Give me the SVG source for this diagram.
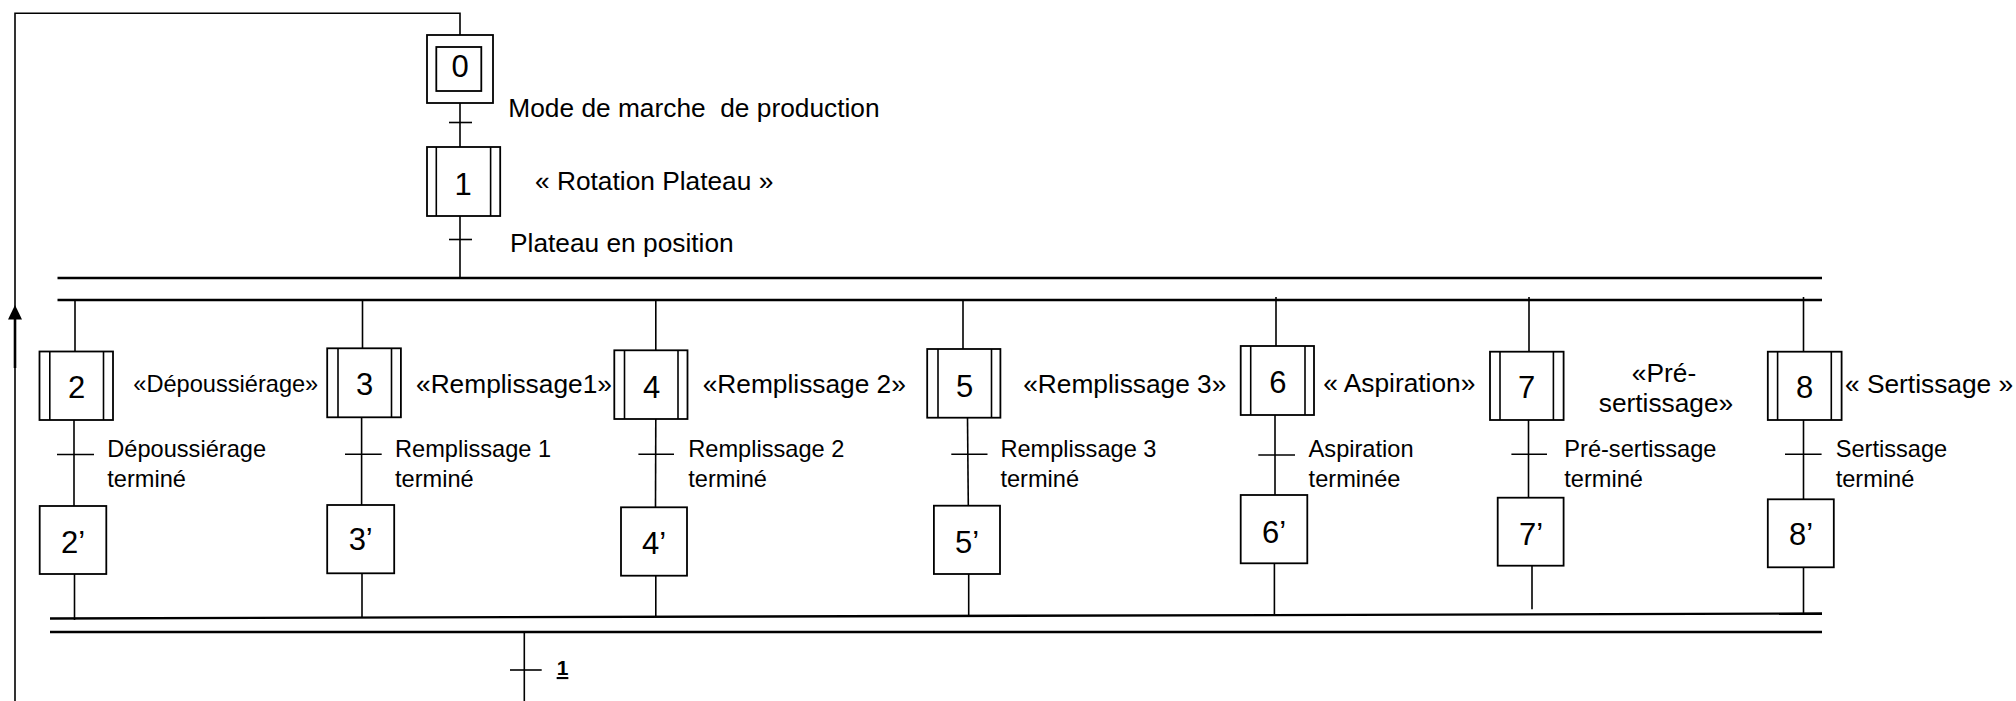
<svg xmlns="http://www.w3.org/2000/svg" width="2016" height="701" viewBox="0 0 2016 701">
<style>
.b{fill:#fff;stroke:#000;stroke-width:1.8}
.l{stroke:#000;stroke-width:1.6;fill:none}
.bar{stroke:#000;stroke-width:2.3;fill:none}
.n{font-family:"Liberation Sans",Arial,sans-serif;font-size:31px;text-anchor:middle;fill:#000}
.c{font-family:"Liberation Sans",Arial,sans-serif;font-size:26.3px;fill:#000}
.t{font-family:"Liberation Sans",Arial,sans-serif;font-size:23.6px;fill:#000}
</style>
<defs>
<marker id="arr" markerWidth="14" markerHeight="15" refX="7" refY="0.5" orient="auto-start-reverse" markerUnits="userSpaceOnUse" viewBox="0 0 14 15">
<path d="M0,15 L7,0 L14,15 Z" fill="#000"/>
</marker>
</defs>
<rect width="2016" height="701" fill="#fff"/>

<g id="connectors">
  <path class="l" d="M15,701 L15,13.3 L460,13.3 L460,35"/>
  <line x1="15" y1="368" x2="15" y2="319" stroke="#000" stroke-width="2.6"/>
  <path d="M8,319.5 L15,305 L22,319.5 Z" fill="#000"/>
  <line class="l" x1="460" y1="103" x2="460" y2="147"/>
  <line class="l" x1="449" y1="122.5" x2="472" y2="122.5"/>
  <line class="l" x1="460" y1="216" x2="460" y2="278"/>
  <line class="l" x1="449" y1="239.5" x2="472" y2="239.5"/>
  <line class="bar" x1="57.5" y1="278" x2="1822" y2="278"/>
  <line class="bar" x1="57.5" y1="300" x2="1822" y2="300"/>
  <line class="l" x1="75" y1="300" x2="75" y2="351.5"/>
  <line class="l" x1="74" y1="420" x2="74" y2="506"/>
  <line class="l" x1="57" y1="454.5" x2="94" y2="454.5"/>
  <line class="l" x1="74.5" y1="574" x2="74.5" y2="620"/>
  <line class="l" x1="362.5" y1="300" x2="362.5" y2="348.3"/>
  <line class="l" x1="361.6" y1="417.3" x2="361.6" y2="505"/>
  <line class="l" x1="345" y1="454.3" x2="381.7" y2="454.3"/>
  <line class="l" x1="362" y1="573.3" x2="362" y2="617"/>
  <line class="l" x1="655.8" y1="300" x2="655.8" y2="350.3"/>
  <line class="l" x1="655.8" y1="419" x2="655.5" y2="507.3"/>
  <line class="l" x1="638.4" y1="454.3" x2="674" y2="454.3"/>
  <line class="l" x1="655.8" y1="575.7" x2="655.8" y2="616"/>
  <line class="l" x1="963" y1="300" x2="963" y2="349"/>
  <line class="l" x1="967.5" y1="417.7" x2="968.3" y2="505.7"/>
  <line class="l" x1="951.3" y1="454.3" x2="987.5" y2="454.3"/>
  <line class="l" x1="968.7" y1="574" x2="968.7" y2="615"/>
  <line class="l" x1="1276" y1="297" x2="1276" y2="346"/>
  <line class="l" x1="1275" y1="415" x2="1275" y2="495"/>
  <line class="l" x1="1258.3" y1="455" x2="1295" y2="455"/>
  <line class="l" x1="1274.4" y1="563.3" x2="1274.4" y2="614.5"/>
  <line class="l" x1="1529" y1="297" x2="1529" y2="351.7"/>
  <line class="l" x1="1528.5" y1="420" x2="1528.5" y2="497.7"/>
  <line class="l" x1="1511.4" y1="454.3" x2="1547" y2="454.3"/>
  <line class="l" x1="1532" y1="565.7" x2="1532" y2="609.3"/>
  <line class="l" x1="1803.5" y1="297" x2="1803.5" y2="351.7"/>
  <line class="l" x1="1803.5" y1="420" x2="1803.5" y2="499.3"/>
  <line class="l" x1="1785" y1="454.3" x2="1821.6" y2="454.3"/>
  <line class="l" x1="1803.5" y1="567.3" x2="1803.5" y2="615"/>
  <line class="bar" x1="50" y1="618.5" x2="1822" y2="613.5"/>
  <line class="bar" x1="50" y1="632" x2="1822" y2="632"/>
  <line class="l" x1="524.3" y1="632" x2="524.3" y2="701"/>
  <line class="l" x1="510" y1="670" x2="541.7" y2="670"/>
</g>

<g id="step0">
  <rect class="b" x="427" y="35" width="66" height="68"/>
  <rect class="b" x="436.3" y="47" width="45" height="44"/>
  <text class="n" x="460" y="76.5">0</text>
</g>
<text class="c" x="508.3" y="116.5" xml:space="preserve">Mode de marche  de production</text>

<g id="step1">
  <rect class="b" x="427" y="147" width="73.2" height="69"/>
  <line class="l" x1="436.3" y1="147" x2="436.3" y2="216"/>
  <line class="l" x1="490.6" y1="147" x2="490.6" y2="216"/>
  <text class="n" x="463" y="195">1</text>
</g>
<text class="c" x="535" y="190">« Rotation Plateau »</text>
<text class="c" x="510" y="251.5">Plateau en position</text>

<g id="step2">
  <rect class="b" x="39.5" y="351.5" width="73.5" height="68.5"/>
  <line class="l" x1="49.8" y1="351.5" x2="49.8" y2="420"/>
  <line class="l" x1="103.5" y1="351.5" x2="103.5" y2="420"/>
  <text class="n" x="76.5" y="398">2</text>
</g>
<text class="t" x="133.3" y="391.7">«Dépoussiérage»</text>
<text class="t" x="107.3" y="456.7">Dépoussiérage</text>
<text class="t" x="107.3" y="487">terminé</text>
<g id="step2p">
  <rect class="b" x="39.7" y="506" width="66.6" height="68"/>
  <text class="n" x="73" y="552.5">2’</text>
</g>

<g id="step3">
  <rect class="b" x="327.2" y="348.3" width="73.7" height="69"/>
  <line class="l" x1="338" y1="348.3" x2="338" y2="417.3"/>
  <line class="l" x1="391.5" y1="348.3" x2="391.5" y2="417.3"/>
  <text class="n" x="364.5" y="395">3</text>
</g>
<text class="c" x="416" y="393.3">«Remplissage1»</text>
<text class="t" x="395" y="456.7">Remplissage 1</text>
<text class="t" x="395" y="487">terminé</text>
<g id="step3p">
  <rect class="b" x="327.2" y="505" width="67" height="68.3"/>
  <text class="n" x="360.7" y="550">3’</text>
</g>

<g id="step4">
  <rect class="b" x="614.3" y="350.3" width="73.2" height="68.7"/>
  <line class="l" x1="624.5" y1="350.3" x2="624.5" y2="419"/>
  <line class="l" x1="678" y1="350.3" x2="678" y2="419"/>
  <text class="n" x="651.5" y="398">4</text>
</g>
<text class="c" x="702.7" y="393.3">«Remplissage 2»</text>
<text class="t" x="688.3" y="456.7">Remplissage 2</text>
<text class="t" x="688.3" y="487">terminé</text>
<g id="step4p">
  <rect class="b" x="621" y="507.3" width="66" height="68.4"/>
  <text class="n" x="654" y="554">4’</text>
</g>

<g id="step5">
  <rect class="b" x="927.2" y="349" width="73.2" height="68.7"/>
  <line class="l" x1="938" y1="349" x2="938" y2="417.7"/>
  <line class="l" x1="991.5" y1="349" x2="991.5" y2="417.7"/>
  <text class="n" x="964.5" y="396.7">5</text>
</g>
<text class="c" x="1023.2" y="393.3">«Remplissage 3»</text>
<text class="t" x="1000.4" y="456.7">Remplissage 3</text>
<text class="t" x="1000.4" y="487">terminé</text>
<g id="step5p">
  <rect class="b" x="933.9" y="505.7" width="66.1" height="68.3"/>
  <text class="n" x="967" y="552.7">5’</text>
</g>

<g id="step6">
  <rect class="b" x="1240.7" y="346" width="73.3" height="69"/>
  <line class="l" x1="1250.7" y1="346" x2="1250.7" y2="415"/>
  <line class="l" x1="1305" y1="346" x2="1305" y2="415"/>
  <text class="n" x="1277.8" y="393.3">6</text>
</g>
<text class="c" x="1323.3" y="391.7">« Aspiration»</text>
<text class="t" x="1308.6" y="456.7">Aspiration</text>
<text class="t" x="1308.6" y="487">terminée</text>
<g id="step6p">
  <rect class="b" x="1240.7" y="495" width="66.6" height="68.3"/>
  <text class="n" x="1274" y="542.7">6’</text>
</g>

<g id="step7">
  <rect class="b" x="1490" y="351.7" width="73.6" height="68.3"/>
  <line class="l" x1="1500" y1="351.7" x2="1500" y2="420"/>
  <line class="l" x1="1553.4" y1="351.7" x2="1553.4" y2="420"/>
  <text class="n" x="1526.5" y="398.3">7</text>
</g>
<text class="c" x="1664" y="381.5" text-anchor="middle">«Pré-</text>
<text class="c" x="1666" y="411.5" text-anchor="middle">sertissage»</text>
<text class="t" x="1564.3" y="456.7">Pré-sertissage</text>
<text class="t" x="1564.3" y="487">terminé</text>
<g id="step7p">
  <rect class="b" x="1497.7" y="497.7" width="65.9" height="68"/>
  <text class="n" x="1531" y="545">7’</text>
</g>

<g id="step8">
  <rect class="b" x="1767.8" y="351.7" width="73.8" height="68.3"/>
  <line class="l" x1="1777.6" y1="351.7" x2="1777.6" y2="420"/>
  <line class="l" x1="1831.3" y1="351.7" x2="1831.3" y2="420"/>
  <text class="n" x="1804.5" y="398.3">8</text>
</g>
<text class="c" x="1845" y="393.3">« Sertissage »</text>
<text class="t" x="1835.7" y="456.7">Sertissage</text>
<text class="t" x="1835.7" y="487">terminé</text>
<g id="step8p">
  <rect class="b" x="1767.8" y="499.3" width="66" height="68"/>
  <text class="n" x="1801" y="545">8’</text>
</g>

<g id="trans-final">
  <text x="562.5" y="675" font-family="Liberation Sans, Arial, sans-serif" font-size="21" font-weight="bold" text-anchor="middle" text-decoration="underline">1</text>
</g>
</svg>
